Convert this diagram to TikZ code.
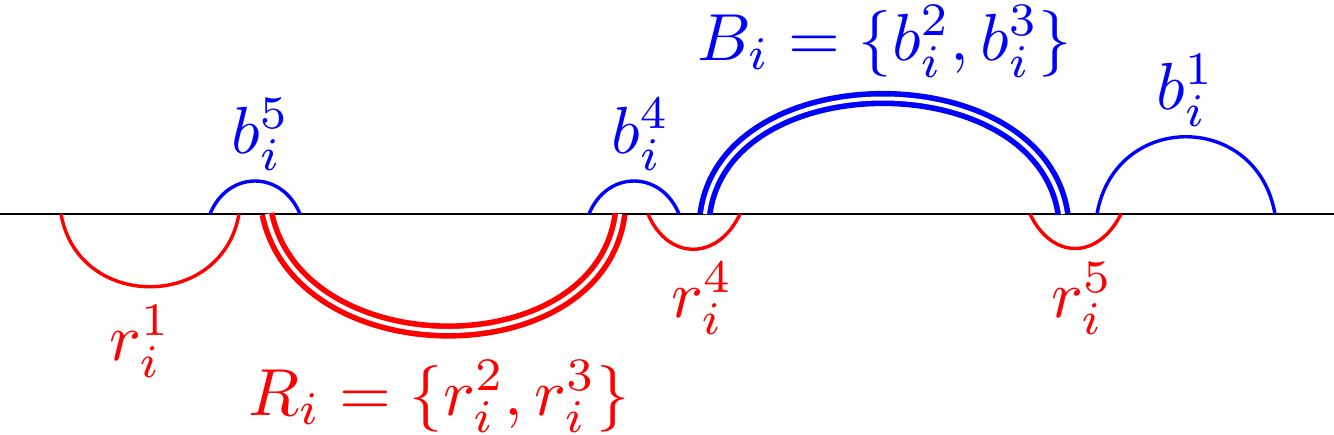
\documentclass[tikz,border=0pt]{standalone}
\begin{document}
\begin{tikzpicture}[x=0.5pt,y=-0.5pt,
  base/.style={black,line width=1pt},
  redarc/.style={red,line width=1.7pt},
  bluearc/.style={blue,line width=1.7pt},
  reddouble/.style={red,line width=2.8pt,double=white,double distance=2pt},
  bluedouble/.style={blue,line width=2.8pt,double=white,double distance=2pt},
  lab/.style={inner sep=0pt,anchor=base west,scale=3.33}]
\useasboundingbox (0,0) rectangle (1334,434);
\coordinate (L) at (0,214);
\coordinate (R) at (1334,214);
\draw[base] (L) -- (R);
% red arcs
\coordinate (r1a) at (61,214); \coordinate (r1b) at (239,214);
\draw[redarc] (r1a) .. controls (78,311) and (222,311) .. (r1b);
\coordinate (Ra) at (267,214); \coordinate (Rb) at (620,214);
\draw[reddouble] (Ra) .. controls (300,370) and (600,370) .. (Rb);
\coordinate (r4a) at (648,214); \coordinate (r4b) at (740,214);
\draw[redarc] (r4a) .. controls (668,261) and (718,261) .. (r4b);
\coordinate (r5a) at (1030,214); \coordinate (r5b) at (1121,214);
\draw[redarc] (r5a) .. controls (1052,260) and (1098,260) .. (r5b);
% blue arcs
\coordinate (b5a) at (210,214); \coordinate (b5b) at (300,214);
\draw[bluearc] (b5a) .. controls (228,170) and (282,170) .. (b5b);
\coordinate (b4a) at (589,214); \coordinate (b4b) at (679,214);
\draw[bluearc] (b4a) .. controls (607,170) and (661,170) .. (b4b);
\coordinate (Ba) at (705,214); \coordinate (Bb) at (1063,214);
\draw[bluedouble] (Ba) .. controls (725,60) and (1040,60) .. (Bb);
\coordinate (b1a) at (1097,214); \coordinate (b1b) at (1275,214);
\draw[bluearc] (b1a) .. controls (1115,111) and (1257,111) .. (b1b);
% labels
\node[lab,blue] (lb5) at (230,153) {$b_i^5$};
\node[lab,blue] (lb4) at (610,153) {$b_i^4$};
\node[lab,blue] (lB) at (696,60) {$B_i=\{b_i^2,b_i^3\}$};
\node[lab,blue] (lb1) at (1155,109) {$b_i^1$};
\node[lab,red] (lr1) at (108,360) {$r_i^1$};
\node[lab,red] (lR) at (247,415) {$R_i=\{r_i^2,r_i^3\}$};
\node[lab,red] (lr4) at (670,317) {$r_i^4$};
\node[lab,red] (lr5) at (1050,317) {$r_i^5$};
\end{tikzpicture}
\end{document}
